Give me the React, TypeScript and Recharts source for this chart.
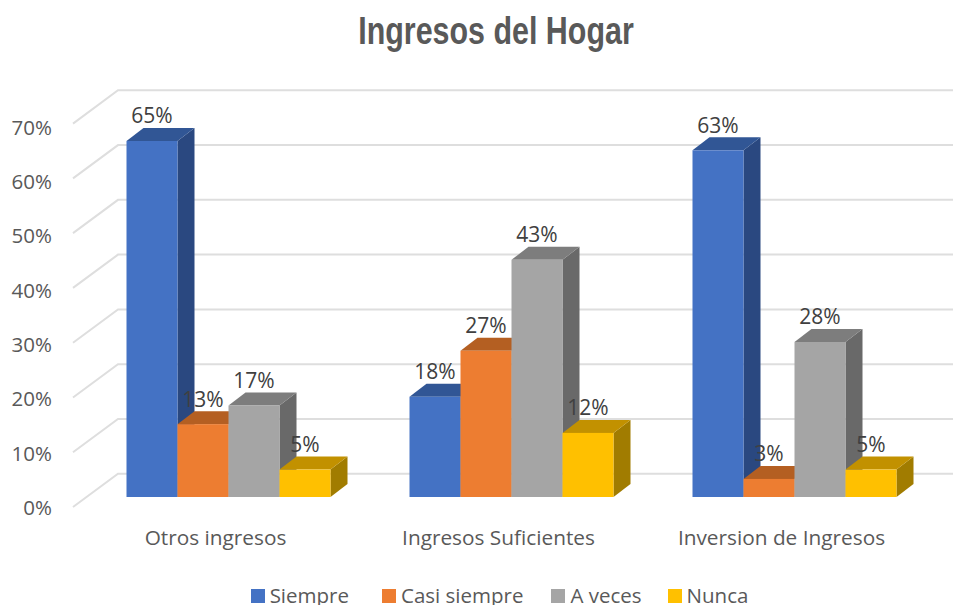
import { BarChart, Bar, XAxis, YAxis, CartesianGrid, Legend, LabelList } from 'recharts';

const CATEGORIES = ['Otros ingresos', 'Ingresos Suficientes', 'Inversion de Ingresos'];
const SIEMPRE = [65, 18.3, 63.3];
const CASI_SIEMPRE = [13.3, 26.7, 3.3];
const A_VECES = [16.7, 43.3, 28.3];
const NUNCA = [5, 11.7, 5];
const Y_TICKS = [0, 10, 20, 30, 40, 50, 60, 70];

const SERIES = [
  { key: 'siempre', name: 'Siempre', values: SIEMPRE, front: '#4472C4', top: '#315695', side: '#2A4880' },
  { key: 'casi', name: 'Casi siempre', values: CASI_SIEMPRE, front: '#ED7D31', top: '#B45F22', side: '#9E5320' },
  { key: 'aveces', name: 'A veces', values: A_VECES, front: '#A5A5A5', top: '#7D7D7D', side: '#696969' },
  { key: 'nunca', name: 'Nunca', values: NUNCA, front: '#FFC000', top: '#C29100', side: '#A17C00' },
];

const data = CATEGORIES.map((name, i) => {
  const row: Record<string, string | number> = { name };
  for (const s of SERIES) row[s.key] = s.values[i];
  return row;
});

const FONT = '"Open Sans", sans-serif';
const TEXT_COLOR = '#595959';
const GRID_COLOR = '#DEDEDE';

// fake 3D depth of the bars and of the floor
const DEPTH_X = 17;
const DEPTH_Y = 13;
const WALL_LEFT = 118;
const WALL_UP = 23.3;
const FLOOR_LEFT = 73;
const FLOOR_DOWN = 10;
const BASE_Y = 497;
const LEGEND_GAPS = [33, 28, 26, 0];

function bar3d(top: string, side: string) {
  return function Bar3d({ x, y, width, height, fill }: any) {
    const r = x + width;
    const b = y + height;
    return (
      <g>
        <polygon points={`${r},${y} ${r + DEPTH_X},${y - DEPTH_Y} ${r + DEPTH_X},${b - DEPTH_Y} ${r},${b}`} fill={side} />
        <polygon points={`${x},${y} ${x + DEPTH_X},${y - DEPTH_Y} ${r + DEPTH_X},${y - DEPTH_Y} ${r},${y}`} fill={top} />
        <rect x={x} y={y} width={width} height={height} fill={fill} />
      </g>
    );
  };
}

function GridLine({ y1 }: any) {
  const y = y1 - WALL_UP;
  return (
    <polyline
      points={`${FLOOR_LEFT},${y1 + FLOOR_DOWN} ${WALL_LEFT},${y} 953,${y}`}
      fill="none"
      stroke={GRID_COLOR}
      strokeWidth={2}
    />
  );
}

function YTick({ y, payload }: any) {
  // labels run a little tighter than the gridlines
  const labelY = BASE_Y + FLOOR_DOWN - (BASE_Y - y) * 0.9915;
  return (
    <text x={52} y={labelY} textAnchor="end" dominantBaseline="central" fontFamily={FONT} fontSize={20.5} fill={TEXT_COLOR}>
      {payload.value}%
    </text>
  );
}

function XTick({ x, payload }: any) {
  return (
    <text x={x - 13.5} y={537} textAnchor="middle" dominantBaseline="central" fontFamily={FONT} fontSize={20.8} fill={TEXT_COLOR}>
      {payload.value}
    </text>
  );
}

function BarLabel({ x, y, width, value }: any) {
  return (
    <text x={x + width / 2} y={y - 25.5} textAnchor="middle" dominantBaseline="central" fontFamily={FONT} fontSize={21} fill="#404040">
      {Math.round(value)}%
    </text>
  );
}

function LegendContent() {
  return (
    <div style={{ display: 'flex', justifyContent: 'center', fontFamily: FONT, fontSize: 20.5, color: TEXT_COLOR, lineHeight: '24px' }}>
      {SERIES.map((s, i) => (
        <span key={s.key} style={{ display: 'flex', alignItems: 'center', gap: 5, marginRight: LEGEND_GAPS[i] }}>
          <span style={{ width: 14, height: 14, marginTop: 2, background: s.front, display: 'inline-block' }} />
          {s.name}
        </span>
      ))}
    </div>
  );
}

export default function App() {
  return (
    <div style={{ position: 'absolute', left: 0, top: 0, width: 953, height: 605, background: '#fff', overflow: 'hidden' }}>
      <div style={{ position: 'absolute', left: 0, top: 7, width: 992, textAlign: 'center', fontFamily: '"Liberation Sans", sans-serif', fontWeight: 700, fontSize: 38.5, color: TEXT_COLOR, lineHeight: '48px', transform: 'scaleX(0.79)', transformOrigin: '496px 0' }}>
        Ingresos del Hogar
      </div>
      <BarChart
        width={953}
        height={605}
        data={data}
        barGap={0}
        barCategoryGap={39}
        margin={{ top: 113.6, right: 16.5, bottom: 44, left: 0 }}
      >
        <CartesianGrid vertical={false} horizontal={(props: any) => <GridLine key={props.key} {...props} />} />
        <XAxis dataKey="name" axisLine={false} tickLine={false} height={40} tick={<XTick />} interval={0} />
        <YAxis width={87.5} domain={[0, 70]} ticks={Y_TICKS} axisLine={false} tickLine={false} tick={<YTick />} interval={0} />
        <Legend
          verticalAlign="bottom"
          height={24}
          content={<LegendContent />}
          wrapperStyle={{ left: 0, width: 999, top: 583, bottom: 'auto' }}
        />
        {SERIES.map((s) => (
          <Bar key={s.key} dataKey={s.key} name={s.name} fill={s.front} shape={bar3d(s.top, s.side)} isAnimationActive={false}>
            <LabelList dataKey={s.key} content={<BarLabel />} />
          </Bar>
        ))}
      </BarChart>
    </div>
  );
}
